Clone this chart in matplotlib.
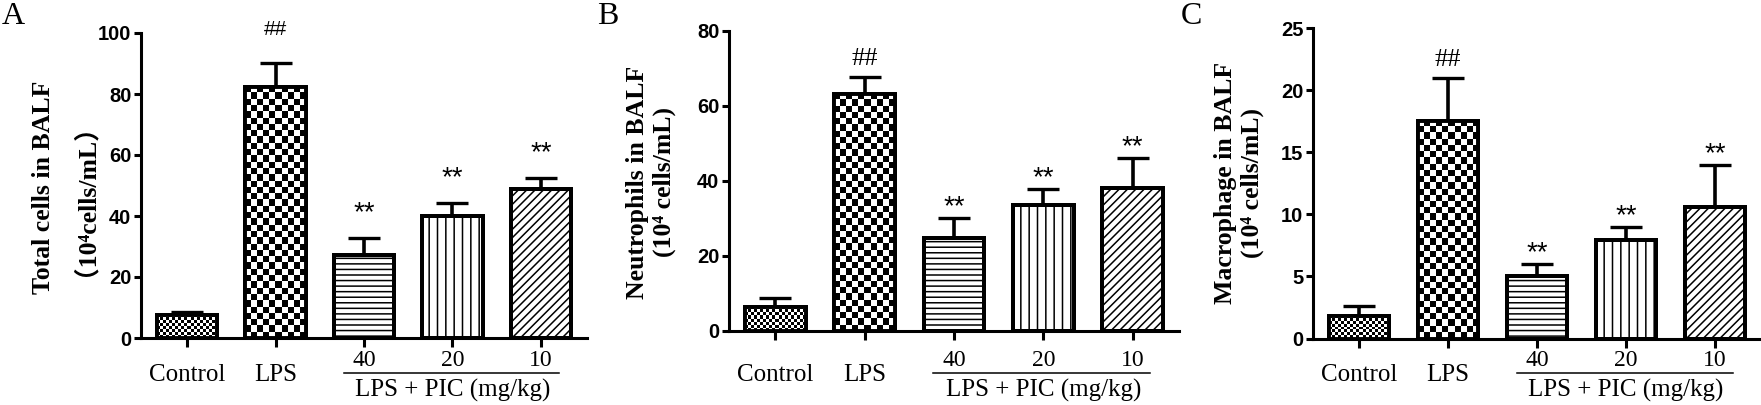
import numpy as np
import matplotlib
matplotlib.use("Agg")
import matplotlib.pyplot as plt
from matplotlib.transforms import blended_transform_factory

# ---------------- data ----------------
groups = ["Control", "LPS", "40", "20", "10"]
dose_title = "LPS + PIC (mg/kg)"
marks = ["", "##", "**", "**", "**"]

total_mean = [7.7, 82.3, 27.2, 40.0, 48.9]
total_sem = [0.9, 7.9, 5.6, 4.3, 3.6]

neut_mean = [6.5, 63.2, 24.7, 33.6, 38.1]
neut_sem = [2.4, 4.5, 5.4, 4.3, 8.0]

macro_mean = [1.85, 17.5, 5.05, 7.9, 10.6]
macro_sem = [0.75, 3.5, 0.95, 1.1, 3.4]

# ---------------- style ----------------
W, H = 1761, 405
SERIF = ["Liberation Serif", "DejaVu Serif", "Noto Sans CJK SC"]
SANS = ["Liberation Sans", "DejaVu Sans"]
plt.rcParams["hatch.linewidth"] = 1.1

fig = plt.figure(figsize=(W / 100, H / 100), dpi=100)
fig.patch.set_facecolor("white")

XLIM = (-0.52, 4.52)
BAR_W = 0.68
hatches = [None, None, "---", "||", "////"]
checker_cells = {0: 3.0, 1: 6.2}   # px size of checkerboard squares


def fx(px):
    return px / W


def fy(py):
    return 1 - py / H


def checker_fill(ax, bar, cell_px):
    x0, y0 = bar.get_x(), bar.get_y()
    x1, y1 = x0 + bar.get_width(), y0 + bar.get_height()
    (px0, py0), (px1, py1) = ax.transData.transform([(x0, y0), (x1, y1)])
    nx = max(1, int(round((px1 - px0) / cell_px)))
    ny = max(1, int(round((py1 - py0) / cell_px)))
    grid = np.indices((ny, nx)).sum(axis=0) % 2
    im = ax.imshow(grid, extent=(x0, x1, y0, y1), origin="lower", cmap="Greys",
                   vmin=0, vmax=1, interpolation="nearest", aspect="auto", zorder=2.5)
    im.set_clip_path(bar)


panels = [
    dict(letter="A", letter_x=2, rect=(141, 587, 338, 33),
         mean=total_mean, sem=total_sem, ymax=100, ystep=20,
         ylabel="Total cells in BALF\n（10⁴cells/mL）", label_x=58, label_y=187,
         hash_font=(SANS, 15, "normal"), hash_gap=24, star_gap=18),
    dict(letter="B", letter_x=597, rect=(729, 1179, 331, 30.7),
         mean=neut_mean, sem=neut_sem, ymax=80, ystep=20,
         ylabel="Neutrophils in BALF\n(10⁴ cells/mL)", label_x=651, label_y=182,
         hash_font=(SERIF, 19, "normal"), hash_gap=13, star_gap=7.5),
    dict(letter="C", letter_x=1181, rect=(1313, 1761, 338.5, 28.3),
         mean=macro_mean, sem=macro_sem, ymax=25, ystep=5,
         ylabel="Macrophage in BALF\n(10⁴ cells/mL)", label_x=1239, label_y=183,
         hash_font=(SERIF, 19, "normal"), hash_gap=13, star_gap=7.5),
]

x = np.arange(len(groups))

for p in panels:
    l, r, b, t = p["rect"]
    ax = fig.add_axes([fx(l), fy(b), fx(r - l), (b - t) / H])
    ax.set_xlim(*XLIM)
    ax.set_ylim(0, p["ymax"])
    ax.set_autoscale_on(False)

    # error bars behind the opaque bars -> only the upper half shows
    ax.errorbar(x, p["mean"], yerr=p["sem"], fmt="none", ecolor="black",
                elinewidth=2.6, capsize=11.5, capthick=2.4, zorder=1.5)

    bars = ax.bar(x, p["mean"], width=BAR_W, color="white", edgecolor="black",
                  linewidth=2.8, zorder=2)
    for i, bar in enumerate(bars):
        if hatches[i]:
            bar.set_hatch(hatches[i])
        if i in checker_cells:
            checker_fill(ax, bar, checker_cells[i])
    ax.bar(x, p["mean"], width=BAR_W, color="none", edgecolor="black",
           linewidth=2.8, zorder=3)

    # significance marks
    for i, m in enumerate(marks):
        if not m:
            continue
        top = p["mean"][i] + p["sem"][i]
        if m.startswith("#"):
            fam, fs, fw = p["hash_font"]
            gap = p["hash_gap"]
        else:
            fam, fs, fw = SANS, 20, "normal"
            gap = p["star_gap"]
        ax.annotate(m, xy=(x[i], top), xytext=(0, gap), textcoords="offset points",
                    ha="center", va="center", fontsize=fs, family=fam,
                    fontweight=fw, annotation_clip=False)

    # axes styling
    for side in ("top", "right"):
        ax.spines[side].set_visible(False)
    for side in ("left", "bottom"):
        ax.spines[side].set_linewidth(2.2)
    yt = np.arange(0, p["ymax"] + p["ystep"] / 2, p["ystep"])
    ax.set_yticks(yt)
    ax.set_yticklabels([f"{v:g}" for v in yt], fontweight="bold", family=SANS, fontsize=14.5)
    ax.tick_params(axis="y", length=5, width=2.2, pad=2, direction="out")
    ax.set_xticks(x)
    ax.set_xticklabels([])
    ax.tick_params(axis="x", length=6.5, width=2.2, direction="out")

    # category labels under the axis
    trans = blended_transform_factory(ax.transData, fig.transFigure)
    for i in range(2):
        ax.text(x[i], fy(375), groups[i], transform=trans, ha="center", va="center",
                fontsize=18, family=SERIF)
    for i in range(2, len(groups)):
        ax.text(x[i], fy(361), groups[i], transform=trans, ha="center", va="center",
                fontsize=17, family=SERIF)
    mid = x[2:].mean()
    ax.plot([mid - 1.23, mid + 1.2], [fy(373), fy(373)], transform=trans,
            color="black", linewidth=1.1, clip_on=False)
    ax.text(mid, fy(390), dose_title, transform=trans, ha="center", va="center",
            fontsize=18, family=SERIF)

    # y label and panel letter
    fig.text(fx(p["label_x"]), fy(p["label_y"]), p["ylabel"], rotation=90,
             ha="center", va="center", multialignment="center", fontsize=18.5,
             fontweight="bold", family=SERIF, linespacing=1.25)
    fig.text(fx(p["letter_x"]), fy(2), p["letter"], ha="left", va="top",
             fontsize=23, family=SERIF)

fig.savefig("out.png", dpi=100, facecolor="white")
